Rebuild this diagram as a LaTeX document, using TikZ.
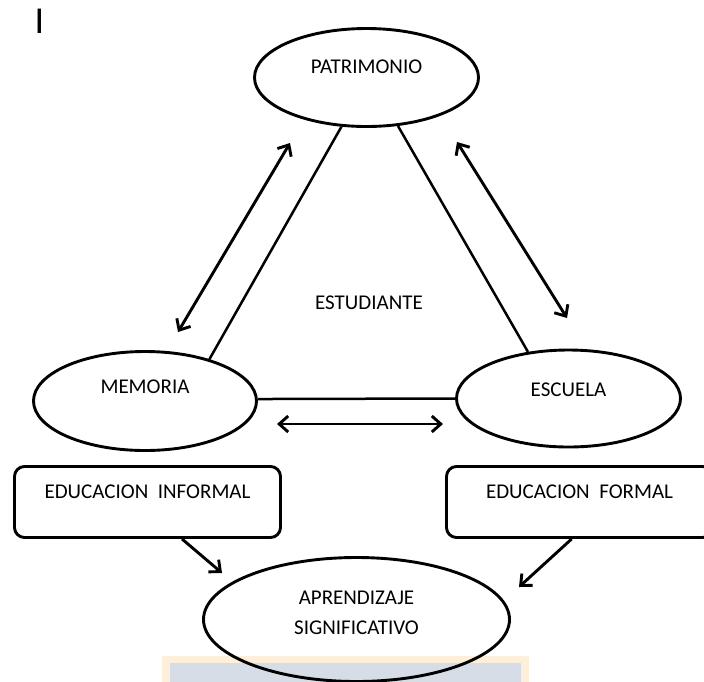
\documentclass[tikz,border=0pt]{standalone}
\usepackage{fontspec}
\setmainfont{Carlito}
\usetikzlibrary{shapes.geometric,arrows.meta}
\definecolor{bgorange}{HTML}{FDEFD9}
\definecolor{bgblue}{HTML}{D6DDE6}
\begin{document}
\begin{tikzpicture}[x=1pt,y=-1pt,
  txt/.style={font=\fontsize{21}{25}\selectfont},
  oval/.style={txt,draw,line width=2.9pt,ellipse,inner sep=0pt,text height=0pt},
  box/.style={txt,draw,line width=2.9pt,rectangle,rounded corners=10pt,inner sep=0pt,
    minimum width=266pt,minimum height=71pt,text height=0pt,text depth=6.5pt},
  conn/.style={line width=2.5pt},
  dbl/.style={line width=2.9pt,{Straight Barb[length=9pt,width=16pt]}-{Straight Barb[length=9pt,width=16pt]}},
  sgl/.style={line width=2.9pt,-{Straight Barb[length=9pt,width=16pt]}}
]
\useasboundingbox (0,0) rectangle (704,681);
% pale background panel at the bottom
\fill[bgorange] (162,656) rectangle (529,690);
\fill[bgblue] (170,663) rectangle (521,690);

\node[font=\fontsize{38}{40}\selectfont,inner sep=0pt] (mark) at (39.5,21.5) {I};

\node[oval,minimum width=224pt,minimum height=98pt,text depth=7.5pt] (pat) at (366.5,77.5) {PATRIMONIO};
\node[oval,minimum width=223pt,minimum height=99pt,text depth=14.5pt] (mem) at (145,401) {MEMORIA};
\node[oval,minimum width=224pt,minimum height=97pt,text depth=3.5pt] (esc) at (568.5,398.5) {ESCUELA};
\node[txt,inner sep=0pt] (est) at (369,303) {ESTUDIANTE};

\node[box] (inf) at (147.5,502) {EDUCACION\ \ INFORMAL};
\node[box] (frm) at (579.5,502) {EDUCACION\ \ FORMAL};

\node[txt,draw,line width=2.9pt,ellipse,inner sep=0pt,minimum width=306pt,minimum height=124pt,
  text height=20pt,text depth=19pt] (apr) at (356.5,619.5)
  {\begin{tabular}{@{}c@{}}APRENDIZAJE\\[5pt]SIGNIFICATIVO\end{tabular}};

% triangle sides
\draw[conn] (pat.243) -- (mem.33);
\draw[conn] (pat.303.7) -- (esc.131.8);
\draw[conn] (mem.1.5) -- (esc.west);

% free double arrows
\coordinate (lu) at (290,143);
\coordinate (ld) at (178,332);
\coordinate (ru) at (457,142);
\coordinate (rd) at (567,318);
\coordinate (hl) at (277,424);
\coordinate (hr) at (443,424);
\draw[dbl] (lu) -- (ld);
\draw[dbl] (ru) -- (rd);
\draw[dbl] (hl) -- (hr);

% arrows to APRENDIZAJE
\coordinate (tinf) at (222,573);
\coordinate (tfrm) at (519,587);
\draw[sgl] (inf.-47) -- (tinf);
\draw[sgl] (frm.-102.6) -- (tfrm);
\end{tikzpicture}
\end{document}
